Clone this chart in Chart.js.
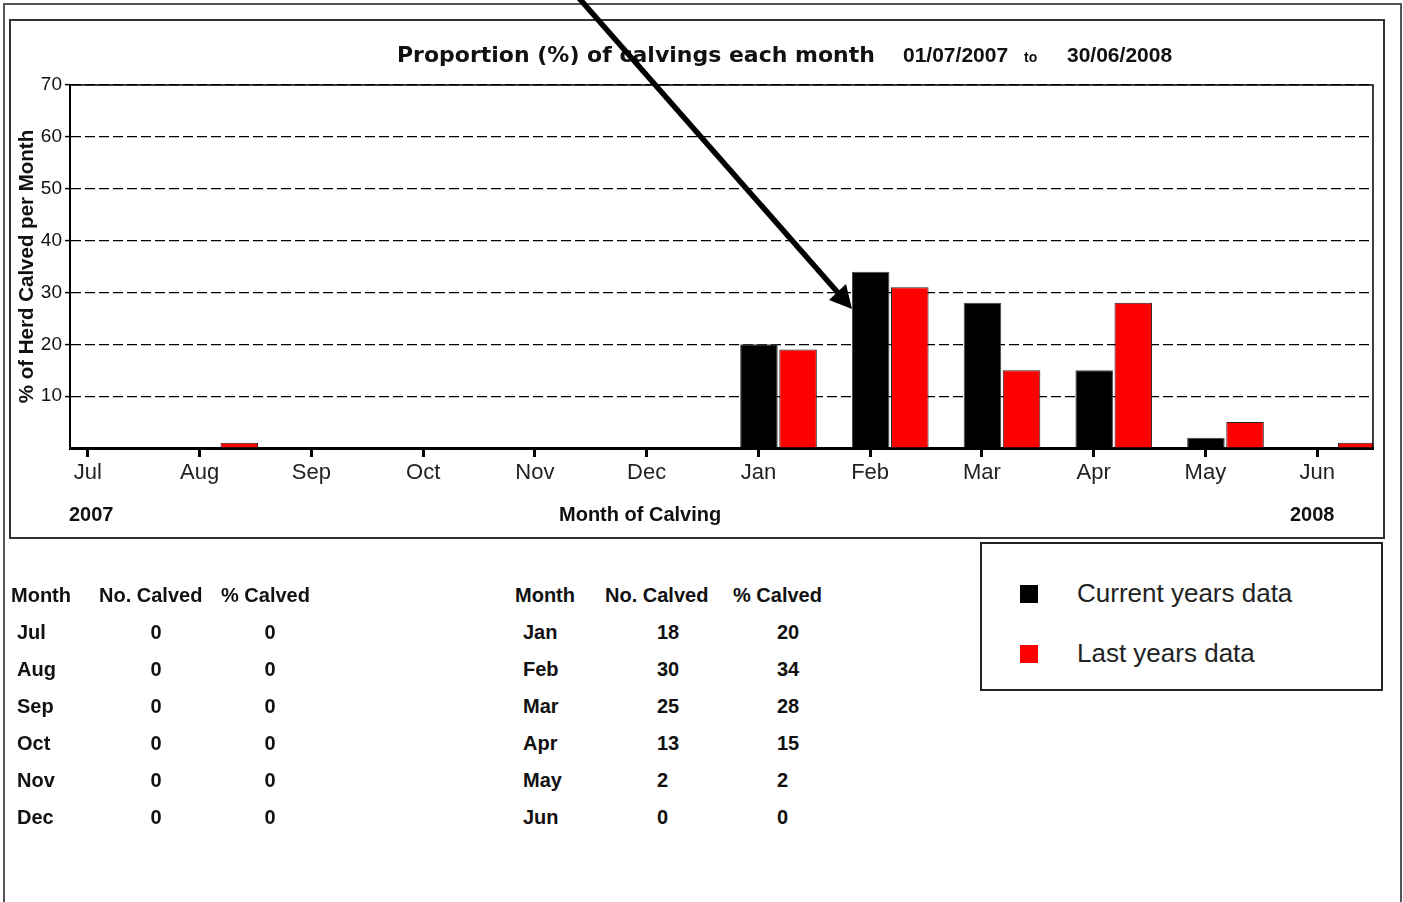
<!DOCTYPE html>
<html>
<head>
<meta charset="utf-8">
<title>Proportion of calvings each month</title>
<script src="https://cdn.jsdelivr.net/npm/chart.js@4/dist/chart.umd.min.js"></script>
<style>
    body { margin: 0; background: #fff; font-family: 'Liberation Sans', Arial, sans-serif; color: #111; }
    #page { position: relative; width: 1403px; height: 902px; overflow: hidden; }
    .abs { position: absolute; white-space: nowrap; }
    #outer { position: absolute; left: 3px; top: 3px; width: 1395px; height: 920px; border: 2px solid #555; }
    #chartbox { position: absolute; left: 9px; top: 19px; width: 1372px; height: 516px; border: 2px solid #333; }
    #chart { position: absolute; left: 10px; top: 20px; }
    .title { font-family: 'DejaVu Sans', sans-serif; font-weight: bold; font-size: 22px; line-height: 26px; }
    .date { font-weight: bold; font-size: 21px; line-height: 26px; }
    .to { font-weight: bold; font-size: 14px; line-height: 26px; }
    .axislbl { font-weight: bold; font-size: 20px; line-height: 24px; }
    .tbl { font-weight: bold; font-size: 20px; line-height: 24px; }
    #legend { position: absolute; left: 980px; top: 542px; width: 399px; height: 145px; border: 2px solid #222; }
    .sw { position: absolute; width: 18px; height: 18px; }
    .legtxt { font-size: 26px; line-height: 30px; color: #222; }
    #arrow { position: absolute; left: 0; top: 0; }
</style>
</head>
<body>
<div id="page">
    <div id="outer"></div>
    <div id="chartbox"></div>
    <canvas id="chart" width="1373" height="517"></canvas>

    <div class="abs title" style="left:397px;top:42px;">Proportion (%) of calvings each month</div>
    <div class="abs date" style="left:903px;top:42px;">01/07/2007</div>
    <div class="abs to" style="left:1024px;top:44px;">to</div>
    <div class="abs date" style="left:1067px;top:42px;">30/06/2008</div>

    <div class="abs axislbl" style="left:69px;top:502px;">2007</div>
    <div class="abs axislbl" style="left:559px;top:502px;">Month of Calving</div>
    <div class="abs axislbl" style="left:1290px;top:502px;">2008</div>

    <div id="tables"></div>

    <div id="legend"></div>

    <svg id="arrow" width="1403" height="902">
        <line x1="578" y1="-3" x2="840" y2="295" stroke="#000" stroke-width="5.5"/>
        <polygon points="852,309 829,300 846,284" fill="#000"/>
    </svg>
</div>

<script>
// data
const months = ['Jul', 'Aug', 'Sep', 'Oct', 'Nov', 'Dec', 'Jan', 'Feb', 'Mar', 'Apr', 'May', 'Jun'];
const currentPct = [0, 0, 0, 0, 0, 0, 20, 34, 28, 15, 2, 0];
const lastPct = [0, 1, 0, 0, 0, 0, 19, 31, 15, 28, 5, 1];
const noCalved = [0, 0, 0, 0, 0, 0, 18, 30, 25, 13, 2, 0];
const yMax = 70;
const yStep = 10;

const seriesNames = ['Current years data', 'Last years data'];
const seriesColors = ['#000000', '#ff0000'];

const font = "'Liberation Sans', Arial, sans-serif";
const tickShift = 0.18; // month tick sits under the black bar

// tables under the chart
const tables = document.getElementById('tables');
const rowY = [632, 669, 706, 743, 780, 817];

function addText(txt, left, centerY, align) {
    var d = document.createElement('div');
    d.className = 'abs tbl';
    d.textContent = txt;
    d.style.top = (centerY - 12) + 'px';
    if (align == 'center') {
        d.style.left = (left - 40) + 'px';
        d.style.width = '80px';
        d.style.textAlign = 'center';
    } else {
        d.style.left = left + 'px';
    }
    tables.appendChild(d);
}

function makeTable(start, cols, centered) {
    addText('Month', cols.head[0], 595);
    addText('No. Calved', cols.head[1], 595);
    addText('% Calved', cols.head[2], 595);
    for (var r = 0; r < 6; r++) {
        var i = start + r;
        addText(months[i], cols.month, rowY[r]);
        addText(String(noCalved[i]), cols.no, rowY[r], centered ? 'center' : 'left');
        addText(String(currentPct[i]), cols.pct, rowY[r], centered ? 'center' : 'left');
    }
}

makeTable(0, { head: [11, 99, 221], month: 17, no: 156, pct: 270 }, true);
makeTable(6, { head: [515, 605, 733], month: 523, no: 657, pct: 777 }, false);

// legend box
const legend = document.getElementById('legend');
seriesNames.forEach((name, k) => {
    var sw = document.createElement('div');
    sw.className = 'sw';
    sw.style.background = seriesColors[k];
    sw.style.left = '38px';
    sw.style.top = (41 + k * 60) + 'px';
    legend.appendChild(sw);
    var t = document.createElement('div');
    t.className = 'abs legtxt';
    t.textContent = name;
    t.style.left = '95px';
    t.style.top = (34 + k * 60) + 'px';
    legend.appendChild(t);
});

// solid frame around the plot area
const plotFrame = {
    id: 'plotFrame',
    afterDraw(chart) {
        const { ctx, chartArea: a } = chart;
        ctx.save();
        ctx.strokeStyle = '#000';
        ctx.lineWidth = 1.5;
        ctx.beginPath();
        ctx.moveTo(a.left, a.bottom);
        ctx.lineTo(a.left, a.top);
        ctx.lineTo(a.right, a.top);
        ctx.lineTo(a.right, a.bottom);
        ctx.stroke();
        ctx.restore();
    }
};

const ctx = document.getElementById('chart').getContext('2d');
const myChart = new Chart(ctx, {
    type: 'bar',
    data: {
        datasets: [{
            label: seriesNames[0],
            data: currentPct.map((v, i) => ({ x: i, y: v })),
            backgroundColor: seriesColors[0],
            borderColor: '#444',
            borderWidth: 1,
            categoryPercentage: 0.70,
            barPercentage: 0.96
        }, {
            label: seriesNames[1],
            data: lastPct.map((v, i) => ({ x: i, y: v })),
            backgroundColor: seriesColors[1],
            borderColor: '#222',
            borderWidth: 1,
            categoryPercentage: 0.70,
            barPercentage: 0.96
        }]
    },
    options: {
        responsive: false,
        animation: false,
        devicePixelRatio: 1,
        layout: { padding: { top: 65, right: 10, left: 0, bottom: 0 } },
        plugins: {
            legend: { display: false },
            tooltip: { enabled: false }
        },
        scales: {
            x: {
                type: 'linear',
                offset: false,
                min: -0.34,
                max: 11.32,
                afterBuildTicks: s => {
                    s.ticks = months.map((m, i) => ({ value: i - tickShift }));
                },
                afterFit: s => { s.height = 89; },
                ticks: {
                    callback: (v, i) => months[i],
                    autoSkip: false,
                    maxRotation: 0,
                    padding: 3,
                    color: '#222',
                    font: { family: font, size: 22 }
                },
                grid: {
                    offset: false,
                    drawOnChartArea: false,
                    drawTicks: true,
                    tickLength: 9,
                    tickWidth: 3,
                    tickColor: '#000'
                },
                border: { display: true, color: '#000', width: 3 }
            },
            y: {
                min: 0,
                max: yMax,
                afterFit: s => { s.width = 60; },
                ticks: {
                    stepSize: yStep,
                    callback: v => v === 0 ? '' : v,
                    padding: 3,
                    color: '#111',
                    font: { family: font, size: 19 }
                },
                grid: {
                    color: '#000',
                    lineWidth: 1.2,
                    tickLength: 5,
                    tickColor: c => (c.tick && c.tick.value === 0) ? 'rgba(0,0,0,0)' : '#000',
                    tickWidth: 1.5,
                    tickBorderDash: []
                },
                border: { display: true, color: '#000', width: 2, dash: [10, 4] },
                title: {
                    display: true,
                    text: '% of Herd Calved per Month',
                    color: '#111',
                    padding: { top: 5, bottom: 0 },
                    font: { family: font, size: 20.5, weight: 'bold' }
                }
            }
        }
    },
    plugins: [plotFrame]
});
</script>
</body>
</html>
